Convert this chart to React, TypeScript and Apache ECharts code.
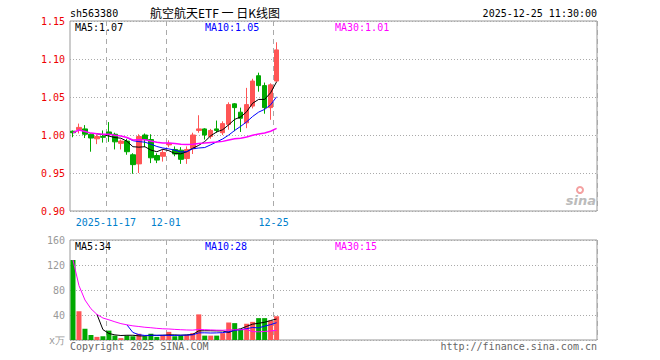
import React, { useEffect, useRef } from "react";
import * as echarts from "echarts";

const dates = [
  "2025-11-07", "2025-11-10", "2025-11-11", "2025-11-12", "2025-11-13", "2025-11-14",
  "2025-11-17", "2025-11-18", "2025-11-19", "2025-11-20", "2025-11-21",
  "2025-11-24", "2025-11-25", "2025-11-26", "2025-11-27", "2025-11-28",
  "2025-12-01", "2025-12-02", "2025-12-03", "2025-12-04", "2025-12-05",
  "2025-12-08", "2025-12-09", "2025-12-10", "2025-12-11", "2025-12-12",
  "2025-12-15", "2025-12-16", "2025-12-17", "2025-12-18", "2025-12-19",
  "2025-12-22", "2025-12-23", "2025-12-24", "2025-12-25",
];
const opens = [
  1.005, 1.007, 1.008, 1.001, 0.995, 0.998, 1.004, 1.001, 0.989, 0.992,
  0.974, 0.962, 1.0, 0.994, 0.973, 0.972, 0.987, 0.981, 0.98, 0.969,
  0.982, 1.006, 1.008, 0.998, 1.008, 1.003, 1.014, 1.041, 1.03, 1.016,
  1.038, 1.078, 1.065, 1.036, 1.071,
];
const closes = [
  1.003, 1.01, 1.001, 0.996, 0.998, 0.997, 1.001, 0.991, 0.992, 0.978,
  0.961, 0.998, 0.994, 0.97, 0.967, 0.977, 0.989, 0.975, 0.968, 0.981,
  1.0, 1.008, 1.0, 1.006, 1.006, 1.015, 1.04, 1.036, 1.022, 1.04,
  1.071, 1.065, 1.036, 1.066, 1.112,
];
const highs = [
  1.006, 1.015, 1.013, 1.002, 1.001, 1.006, 1.017, 1.003, 0.994, 0.995,
  0.976, 1.001, 1.002, 1.001, 0.976, 0.981, 0.993, 0.985, 0.984, 0.985,
  1.003, 1.026, 1.009, 1.008, 1.019, 1.018, 1.043, 1.042, 1.036, 1.062,
  1.074, 1.082, 1.069, 1.068, 1.122,
];
const lows = [
  0.997, 1.002, 0.996, 0.978, 0.988, 0.99, 0.991, 0.981, 0.981, 0.974,
  0.949, 0.95, 0.984, 0.963, 0.963, 0.965, 0.984, 0.972, 0.962, 0.962,
  0.975, 1.003, 0.994, 0.995, 1.003, 1.0, 1.007, 1.005, 1.004, 1.009,
  1.035, 1.057, 1.028, 1.02, 1.07,
];
// volume in 万
const volumes = [
  128, 46, 18, 8, 5, 6, 15, 7, 3, 7,
  6, 10, 6, 10, 5, 7, 13, 6, 7, 8,
  11, 41, 7, 7, 7, 11, 28, 27, 17, 26,
  29, 35, 35, 31, 38,
];
const tickDates = ["2025-11-17", "2025-12-01", "2025-12-25"];
const tickLabels = ["2025-11-17", "12-01", "12-25"];
const priceTicks = [0.9, 0.95, 1.0, 1.05, 1.1, 1.15];
const volTicks = [0, 40, 80, 120, 160];
const TOTAL_SLOTS = 88;

const RED = "#ff5555";
const GREEN = "#00a800";
const MONO = '"DejaVu Sans Mono", "Liberation Mono", monospace';

function movingAvg(vals: number[], n: number, partial: boolean) {
  return vals.map((_, i) => {
    if (i < n - 1 && !partial) return null;
    const s = Math.max(0, i - n + 1);
    const w = vals.slice(s, i + 1);
    return w.reduce((a, b) => a + b, 0) / w.length;
  });
}

export default function App() {
  const ref = useRef<HTMLDivElement>(null);
  useEffect(() => {
    if (!ref.current) return;
    const chart = echarts.init(ref.current, null, { renderer: "svg" });
    const cats: string[] = [];
    for (let i = 0; i < TOTAL_SLOTS; i++) cats.push(i < dates.length ? dates[i] : `pad${i}`);
    const tickIdx = tickDates.map((d) => dates.indexOf(d));
    const showTick = (idx: number) => tickIdx.indexOf(idx) >= 0;

    const candle = dates.map((_, i) => [opens[i], closes[i], lows[i], highs[i]]);
    const volData = volumes.map((v, i) => ({
      value: v,
      itemStyle: { color: closes[i] >= opens[i] ? RED : GREEN },
    }));
    const line = (data: (number | null)[], color: string, xi: number, width = 1) => ({
      type: "line",
      xAxisIndex: xi,
      yAxisIndex: xi,
      data,
      symbol: "none",
      showSymbol: false,
      connectNulls: false,
      lineStyle: { color, width },
      z: 5,
      silent: true,
    });

    const vSplit = {
      show: true,
      interval: (idx: number) => showTick(idx),
      lineStyle: { color: "#aaaaaa", type: [5, 4], width: 1 },
    };
    const hSplit = {
      show: true,
      lineStyle: { color: "#aaaaaa", type: [1, 2], width: 1 },
    };

    const txt = (
      text: string,
      x: number,
      y: number,
      fill: string,
      align = "left",
      font = `10px ${MONO}`
    ) => ({
      type: "text",
      x,
      y,
      silent: true,
      style: { text, fill, font, textAlign: align, textVerticalAlign: "middle" },
    });

    chart.setOption({
      animation: false,
      backgroundColor: "#ffffff",
      grid: [
        { left: 70, top: 21, width: 527, height: 190, show: true, borderColor: "#999999", borderWidth: 1, backgroundColor: "transparent" },
        { left: 70, top: 240, width: 527, height: 100, show: true, borderColor: "#999999", borderWidth: 1, backgroundColor: "transparent" },
      ],
      xAxis: [
        {
          type: "category",
          gridIndex: 0,
          data: cats,
          boundaryGap: true,
          axisLine: { show: false },
          axisTick: { show: false },
          axisLabel: {
            interval: (idx: number) => showTick(idx),
            formatter: (v: string) => {
              const k = tickDates.indexOf(v);
              return k >= 0 ? tickLabels[k] : "";
            },
            color: "#0080cc",
            fontFamily: MONO,
            fontSize: 10,
            margin: 6,
            padding: [0, 6, 0, 0],
          },
          splitLine: vSplit,
        },
        {
          type: "category",
          gridIndex: 1,
          data: cats,
          boundaryGap: true,
          axisLine: { show: false },
          axisTick: { show: false },
          axisLabel: { show: false },
          splitLine: vSplit,
        },
      ],
      yAxis: [
        {
          type: "value",
          gridIndex: 0,
          min: priceTicks[0],
          max: priceTicks[priceTicks.length - 1],
          interval: 0.05,
          axisLine: { show: false },
          axisTick: { show: false },
          axisLabel: {
            formatter: (v: number) => v.toFixed(2),
            color: "#ee0000",
            fontFamily: MONO,
            fontSize: 10,
            margin: 5,
          },
          splitLine: hSplit,
        },
        {
          type: "value",
          gridIndex: 1,
          min: volTicks[0],
          max: volTicks[volTicks.length - 1],
          interval: 40,
          axisLine: { show: false },
          axisTick: { show: false },
          axisLabel: {
            formatter: (v: number) => (v === 0 ? "x万" : String(v)),
            color: "#999999",
            fontFamily: MONO,
            fontSize: 10,
            margin: 5,
          },
          splitLine: hSplit,
        },
      ],
      series: [
        {
          type: "candlestick",
          xAxisIndex: 0,
          yAxisIndex: 0,
          data: candle,
          barWidth: 5,
          itemStyle: {
            color: RED,
            color0: GREEN,
            borderColor: RED,
            borderColor0: GREEN,
            borderWidth: 1,
          },
          z: 3,
          silent: true,
        },
        line(movingAvg(closes, 5, false), "#000000", 0),
        line(movingAvg(closes, 10, false), "#0000ff", 0),
        line(movingAvg(closes, 30, true), "#ff00ff", 0, 1.5),
        {
          type: "bar",
          xAxisIndex: 1,
          yAxisIndex: 1,
          data: volData,
          barWidth: 5,
          z: 3,
          silent: true,
        },
        line(movingAvg(volumes, 5, false), "#000000", 1),
        line(movingAvg(volumes, 10, false), "#0000ff", 1),
        line(movingAvg(volumes, 30, true), "#ff00ff", 1),
      ],
      graphic: [
        txt("sh563380", 70, 13, "#000000"),
        txt("航空航天ETF 一 日K线图", 150, 12, "#000000", "left", '12px "Noto Sans CJK SC", sans-serif'),
        txt("2025-12-25 11:30:00", 597, 13, "#000000", "right"),
        txt("MA5:1.07", 75, 27, "#000000"),
        txt("MA10:1.05", 205, 27, "#0000ff"),
        txt("MA30:1.01", 335, 27, "#ff00ff"),
        txt("MA5:34", 75, 246, "#000000"),
        txt("MA10:28", 205, 246, "#0000ff"),
        txt("MA30:15", 335, 246, "#ff00ff"),
        txt("Copyright 2025 SINA.COM", 70, 346, "#666666"),
        txt("http://finance.sina.com.cn", 597, 346, "#666666", "right"),
        {
          type: "group",
          silent: true,
          children: [
            { type: "ring", shape: { cx: 580, cy: 190, r: 4, r0: 2 }, style: { fill: "#f4a0a0" } },
            txt("sina", 596, 200, "#bbbbbb", "right", 'italic bold 13px "DejaVu Sans", sans-serif'),
          ],
        },
      ],
    });
    return () => chart.dispose();
  }, []);
  return (
    <div
      ref={ref}
      style={{ position: "absolute", left: 0, top: 0, width: 660, height: 360, background: "#fff" }}
    />
  );
}
